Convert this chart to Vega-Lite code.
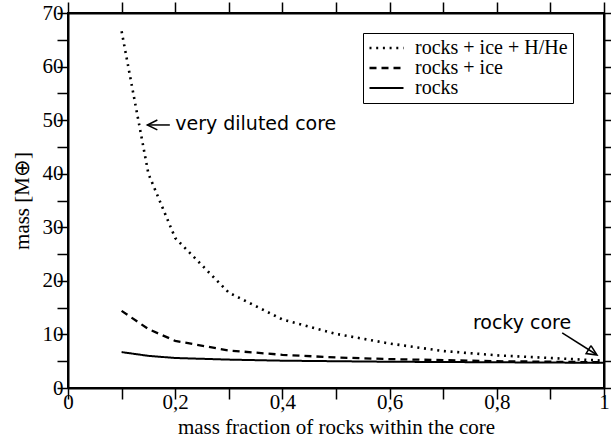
{
  "$schema": "https://vega.github.io/schema/vega-lite/v6.json",
  "width": 536,
  "height": 375,
  "autosize": {"type": "none"},
  "padding": {"left": 68, "top": 13, "right": 7, "bottom": 52},
  "background": "white",
  "config": {
    "view": {"stroke": "black", "strokeWidth": 2},
    "axis": {
      "grid": false,
      "domainColor": "black",
      "domainWidth": 2,
      "tickColor": "black",
      "tickWidth": 1.5,
      "tickSize": 11,
      "labelFont": "Liberation Serif",
      "labelFontSize": 21,
      "labelColor": "black",
      "labelOverlap": false,
      "labelFlush": false,
      "titleFont": "Liberation Serif",
      "titleFontSize": 21,
      "titleFontWeight": "normal",
      "titleColor": "black"
    }
  },
  "datasets": {
    "curves": [
      {"series": "rocks + ice + H/He", "f": 0.1, "m": 66.6},
      {"series": "rocks + ice + H/He", "f": 0.15, "m": 40.0},
      {"series": "rocks + ice + H/He", "f": 0.2, "m": 28.0},
      {"series": "rocks + ice + H/He", "f": 0.3, "m": 17.8},
      {"series": "rocks + ice + H/He", "f": 0.4, "m": 12.8},
      {"series": "rocks + ice + H/He", "f": 0.5, "m": 10.1},
      {"series": "rocks + ice + H/He", "f": 0.6, "m": 8.3},
      {"series": "rocks + ice + H/He", "f": 0.7, "m": 6.9},
      {"series": "rocks + ice + H/He", "f": 0.8, "m": 6.1},
      {"series": "rocks + ice + H/He", "f": 0.9, "m": 5.6},
      {"series": "rocks + ice + H/He", "f": 1.0, "m": 5.1},
      {"series": "rocks + ice", "f": 0.1, "m": 14.4},
      {"series": "rocks + ice", "f": 0.15, "m": 11.0},
      {"series": "rocks + ice", "f": 0.2, "m": 8.8},
      {"series": "rocks + ice", "f": 0.3, "m": 7.0},
      {"series": "rocks + ice", "f": 0.4, "m": 6.2},
      {"series": "rocks + ice", "f": 0.5, "m": 5.7},
      {"series": "rocks + ice", "f": 0.6, "m": 5.4},
      {"series": "rocks + ice", "f": 0.7, "m": 5.2},
      {"series": "rocks + ice", "f": 0.8, "m": 5.0},
      {"series": "rocks + ice", "f": 0.9, "m": 4.9},
      {"series": "rocks + ice", "f": 1.0, "m": 4.8},
      {"series": "rocks", "f": 0.1, "m": 6.7},
      {"series": "rocks", "f": 0.15, "m": 6.0},
      {"series": "rocks", "f": 0.2, "m": 5.6},
      {"series": "rocks", "f": 0.3, "m": 5.3},
      {"series": "rocks", "f": 0.4, "m": 5.1},
      {"series": "rocks", "f": 0.5, "m": 5.0},
      {"series": "rocks", "f": 0.6, "m": 4.9},
      {"series": "rocks", "f": 0.7, "m": 4.85},
      {"series": "rocks", "f": 0.8, "m": 4.8},
      {"series": "rocks", "f": 0.9, "m": 4.75},
      {"series": "rocks", "f": 1.0, "m": 4.7}
    ],
    "arrows": [
      {"part": "a1", "i": 1, "f": 0.19, "m": 49.1},
      {"part": "a1", "i": 2, "f": 0.148, "m": 49.1},
      {"part": "h1", "i": 1, "f": 0.1667, "m": 50.03},
      {"part": "h1", "i": 2, "f": 0.148, "m": 49.1},
      {"part": "h1", "i": 3, "f": 0.1667, "m": 48.17},
      {"part": "a2", "i": 1, "f": 0.922, "m": 10.27},
      {"part": "a2", "i": 2, "f": 0.985, "m": 6.3},
      {"part": "h2", "i": 1, "f": 0.9757, "m": 7.9},
      {"part": "h2", "i": 2, "f": 0.987, "m": 6.16},
      {"part": "h2", "i": 3, "f": 0.9666, "m": 6.42},
      {"part": "h2", "i": 4, "f": 0.9757, "m": 7.9}
    ],
    "notes": [
      {"text": "very diluted core", "f": 0.2, "m": 49.3},
      {"text": "rocky core", "f": 0.847, "m": 12.1}
    ]
  },
  "layer": [
    {
      "data": {"name": "curves"},
      "mark": {"type": "line", "color": "black"},
      "encoding": {
        "x": {
          "field": "f", "type": "quantitative",
          "scale": {"domain": [0, 1], "nice": false, "zero": false},
          "axis": {
            "orient": "bottom",
            "values": [0, 0.1, 0.2, 0.3, 0.4, 0.5, 0.6, 0.7, 0.8, 0.9, 1],
            "labelExpr": "round(datum.value*10)%2==0 ? replace(format(datum.value,'~g'),'.',',') : ''",
            "labelPadding": -8,
            "title": "mass fraction of rocks within the core",
            "titlePadding": 4,
            "encode": {"ticks": {"update": {"y2": {"signal": "round(datum.value*10)%2==0 ? -11 : -5.5"}}}}
          }
        },
        "y": {
          "field": "m", "type": "quantitative",
          "scale": {"domain": [0, 70], "nice": false},
          "axis": {
            "orient": "left",
            "values": [0, 5, 10, 15, 20, 25, 30, 35, 40, 45, 50, 55, 60, 65, 70],
            "labelExpr": "datum.value % 10 == 0 ? datum.label : ''",
            "labelPadding": -6,
            "title": "mass [M⊕]",
            "titlePadding": 10,
            "encode": {"ticks": {"update": {"x2": {"signal": "datum.value % 10 == 0 ? 11 : 5.5"}}}}
          }
        },
        "strokeWidth": {
          "field": "series", "type": "nominal",
          "scale": {
            "domain": ["rocks + ice + H/He", "rocks + ice", "rocks"],
            "range": [2.6, 2, 2]
          },
          "legend": null
        },
        "strokeDash": {
          "field": "series", "type": "nominal",
          "scale": {
            "domain": ["rocks + ice + H/He", "rocks + ice", "rocks"],
            "range": [[2, 4.7], [7, 5], [1, 0]]
          },
          "legend": {
            "orient": "none",
            "legendX": 295,
            "legendY": 20,
            "title": null,
            "strokeColor": "black",
            "fillColor": "white",
            "padding": 5,
            "rowPadding": 0,
            "labelFont": "Liberation Serif",
            "labelFontSize": 20,
            "labelLimit": 400,
            "labelColor": "black",
            "symbolType": "M-1,0H3",
            "symbolSize": 289,
            "symbolStrokeWidth": 2,
            "symbolStrokeColor": "black",
            "labelOffset": 27
          }
        }
      }
    },
    {
      "data": {"name": "arrows"},
      "mark": {"type": "line", "color": "black", "strokeWidth": 1.5},
      "encoding": {
        "x": {
          "field": "f", "type": "quantitative",
          "axis": {
            "orient": "top",
            "values": [0, 0.1, 0.2, 0.3, 0.4, 0.5, 0.6, 0.7, 0.8, 0.9, 1],
            "labels": false,
            "title": null,
            "encode": {"ticks": {"update": {"y2": {"signal": "round(datum.value*10)%2==0 ? 11 : 5.5"}}}}
          }
        },
        "y": {
          "field": "m", "type": "quantitative",
          "axis": {
            "orient": "right",
            "values": [0, 5, 10, 15, 20, 25, 30, 35, 40, 45, 50, 55, 60, 65, 70],
            "labels": false,
            "title": null,
            "encode": {"ticks": {"update": {"x2": {"signal": "datum.value % 10 == 0 ? -11 : -5.5"}}}}
          }
        },
        "detail": {"field": "part", "type": "nominal"},
        "order": {"field": "i", "type": "quantitative"}
      }
    },
    {
      "data": {"name": "notes"},
      "transform": [{"filter": "datum.text == 'very diluted core'"}],
      "mark": {"type": "text", "font": "DejaVu Sans", "fontSize": 19, "color": "black", "baseline": "middle", "align": "left"},
      "encoding": {
        "x": {"field": "f", "type": "quantitative", "axis": null},
        "y": {"field": "m", "type": "quantitative", "axis": null},
        "text": {"field": "text"}
      }
    },
    {
      "data": {"name": "notes"},
      "transform": [{"filter": "datum.text == 'rocky core'"}],
      "mark": {"type": "text", "font": "DejaVu Sans", "fontSize": 19, "color": "black", "baseline": "middle", "align": "center"},
      "encoding": {
        "x": {"field": "f", "type": "quantitative", "axis": null},
        "y": {"field": "m", "type": "quantitative", "axis": null},
        "text": {"field": "text"}
      }
    }
  ]
}
